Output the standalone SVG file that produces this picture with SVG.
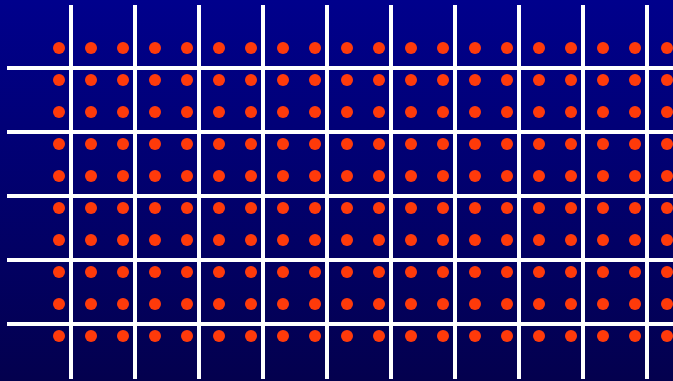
<svg xmlns="http://www.w3.org/2000/svg" width="673" height="381" viewBox="0 0 673 381">
<defs>
<linearGradient id="bg" x1="0" y1="0" x2="0" y2="1">
<stop offset="0" stop-color="#00008C"/>
<stop offset="1" stop-color="#03004E"/>
</linearGradient>
<pattern id="dots" x="43" y="32" width="32" height="32" patternUnits="userSpaceOnUse">
<circle cx="16" cy="16" r="6" fill="#FF3A0A"/>
</pattern>
<style>.g{stroke:#FFFFFF;stroke-width:4;fill:none}</style>
</defs>
<rect width="673" height="381" fill="url(#bg)"/>
<g id="dots-grid">
<rect x="43" y="32" width="640" height="320" fill="url(#dots)"/>
</g>
<g id="lines" class="g">
<path d="M71 5V379M135 5V379M199 5V379M263 5V379M327 5V379M391 5V379M455 5V379M519 5V379M583 5V379M647 5V379"/>
<path d="M7 68H673M7 132H673M7 196H673M7 260H673M7 324H673"/>
</g>
</svg>
